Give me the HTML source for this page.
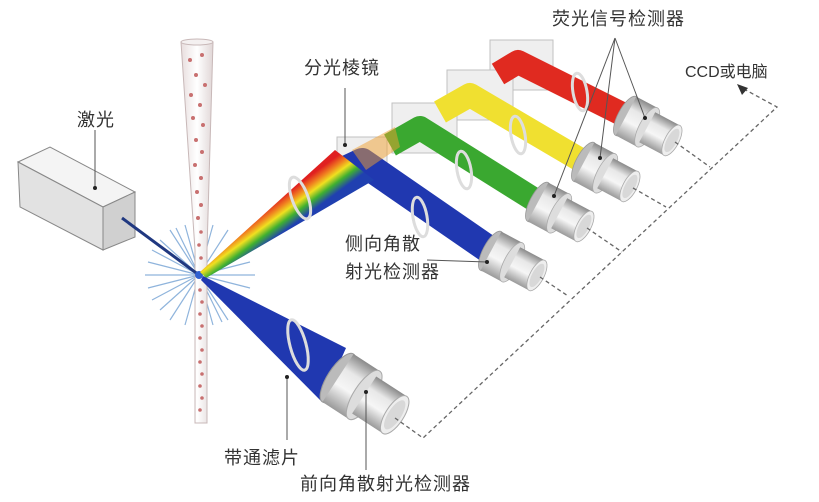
<!DOCTYPE html>
<html><head><meta charset="utf-8"><style>
html,body{margin:0;padding:0;background:#fff;}
svg{display:block;}
text{font-family:"Liberation Sans","Noto Sans CJK SC",sans-serif;font-size:18px;letter-spacing:1px;fill:#333;}
</style></head><body>
<svg width="819" height="502" viewBox="0 0 819 502" xmlns="http://www.w3.org/2000/svg">
<defs>
<linearGradient id="metal" x1="0" y1="0" x2="0" y2="1">
<stop offset="0" stop-color="#8a8a8a"/><stop offset="0.3" stop-color="#e8e8e8"/><stop offset="0.6" stop-color="#f6f6f6"/><stop offset="1" stop-color="#9a9a9a"/>
</linearGradient>
<linearGradient id="rainbow" gradientUnits="userSpaceOnUse" x1="192" y1="260" x2="214" y2="290">
<stop offset="0.05" stop-color="#e02020"/><stop offset="0.25" stop-color="#f08020"/><stop offset="0.42" stop-color="#f0e020"/><stop offset="0.62" stop-color="#40b030"/><stop offset="0.85" stop-color="#2040b0"/>
</linearGradient>
<linearGradient id="tube" x1="0" y1="0" x2="1" y2="0">
<stop offset="0" stop-color="#e8dede"/><stop offset="0.5" stop-color="#fff"/><stop offset="1" stop-color="#e0d6d6"/>
</linearGradient>
<g id="det">
<ellipse cx="0" cy="0" rx="8" ry="22" fill="#bbb" stroke="#999" stroke-width="0.8"/>
<rect x="0" y="-22" width="24" height="44" fill="url(#metal)"/>
<ellipse cx="24" cy="0" rx="8" ry="22" fill="#ddd" stroke="#aaa" stroke-width="0.8"/>
<rect x="24" y="-17" width="28" height="34" fill="url(#metal)"/>
<ellipse cx="52" cy="0" rx="7" ry="17" fill="#eee" stroke="#aaa" stroke-width="0.8"/>
<ellipse cx="52" cy="0" rx="5" ry="13" fill="#d8d8d8"/>
</g>
</defs>

<polygon points="18,162 50,147 135,192 103,207" fill="#f4f4f4" stroke="#888" stroke-width="1"/>
<polygon points="18,162 103,207 103,250 20,207" fill="#e2e2e2" stroke="#888" stroke-width="1"/>
<polygon points="103,207 135,192 135,237 103,250" fill="#d0d0d0" stroke="#888" stroke-width="1"/>
<line x1="95" y1="130" x2="95" y2="188" stroke="#555" stroke-width="1"/>
<circle cx="95" cy="188" r="2" fill="#222"/>
<text x="77" y="126">激光</text>

<g stroke="#8fb4dc" stroke-width="1.2">
<line x1="145" y1="275" x2="255" y2="275"/><line x1="152" y1="250" x2="246" y2="300"/>
<line x1="152" y1="300" x2="246" y2="250"/><line x1="170" y1="230" x2="228" y2="320"/>
<line x1="170" y1="320" x2="228" y2="230"/><line x1="160" y1="240" x2="238" y2="310"/>
<line x1="160" y1="310" x2="238" y2="240"/><line x1="185" y1="225" x2="213" y2="325"/>
<line x1="185" y1="325" x2="213" y2="225"/><line x1="148" y1="262" x2="250" y2="288"/>
<line x1="148" y1="288" x2="250" y2="262"/><line x1="176" y1="228" x2="222" y2="322"/>
</g>

<path d="M181,42 L213,42 L207,250 L207,423 L195,423 L195,250 Z" fill="url(#tube)" stroke="#c8b8b8" stroke-width="1"/>
<ellipse cx="197" cy="42" rx="16" ry="3" fill="#f4f0f0" stroke="#c8b8b8"/>
<g fill="#c87070">
<circle cx="190" cy="60" r="2"/><circle cx="202" cy="55" r="2"/><circle cx="196" cy="75" r="2"/><circle cx="205" cy="85" r="2"/>
<circle cx="191" cy="95" r="2"/><circle cx="200" cy="105" r="2"/><circle cx="193" cy="118" r="2"/><circle cx="203" cy="125" r="2"/>
<circle cx="196" cy="140" r="2"/><circle cx="202" cy="152" r="2"/><circle cx="195" cy="165" r="2"/><circle cx="201" cy="178" r="2"/>
<circle cx="197" cy="192" r="2"/><circle cx="201" cy="205" r="2"/><circle cx="198" cy="218" r="2"/><circle cx="201" cy="232" r="1.8"/>
<circle cx="199" cy="245" r="1.8"/><circle cx="201" cy="258" r="1.8"/>
<circle cx="200" cy="290" r="1.8"/><circle cx="202" cy="302" r="1.8"/><circle cx="200" cy="314" r="1.8"/><circle cx="202" cy="326" r="1.8"/>
<circle cx="200" cy="338" r="1.8"/><circle cx="202" cy="350" r="1.8"/><circle cx="200" cy="362" r="1.8"/><circle cx="202" cy="374" r="1.8"/>
<circle cx="200" cy="386" r="1.8"/><circle cx="202" cy="398" r="1.8"/><circle cx="200" cy="410" r="1.8"/>
</g>

<line x1="122" y1="218" x2="199" y2="275" stroke="#203880" stroke-width="3"/>
<circle cx="199" cy="275" r="4" fill="#3060d0"/>

<g fill="#eeeeee" stroke="#bbb" stroke-width="1" opacity="0.9">
<rect x="490" y="40" width="63" height="50"/>
<rect x="447" y="70" width="66" height="50"/>
<rect x="392" y="103" width="65" height="50"/>
<rect x="337" y="137" width="50" height="40"/>
</g>

<g fill="none" stroke-linejoin="round">
<polyline points="498,74 518,62 626,116" stroke="#e02a20" stroke-width="24"/>
<polyline points="440,112 470,95 584,162" stroke="#f0e030" stroke-width="24"/>
<polyline points="390,145 420,128 538,202" stroke="#3aa830" stroke-width="24"/>
<polyline points="345,170 362,162 491,251" stroke="#2038b0" stroke-width="28"/>
</g>
<polygon points="200,272 335,150 374,180 206,278" fill="url(#rainbow)"/>
<polygon points="352,150 395,127 400,147 366,170" fill="#f0a030" opacity="0.5"/>

<polygon points="203,276 346,348 322,402 201,280" fill="#2038b0"/>

<g fill="none" stroke="#ddd" stroke-width="3">
<ellipse cx="300" cy="198" rx="8" ry="22" transform="rotate(-20 300 198)"/>
<ellipse cx="420" cy="217" rx="7" ry="20" transform="rotate(-10 420 217)"/>
<ellipse cx="464" cy="170" rx="7" ry="19" transform="rotate(-10 464 170)"/>
<ellipse cx="518" cy="135" rx="7" ry="19" transform="rotate(-10 518 135)"/>
<ellipse cx="580" cy="92" rx="7" ry="19" transform="rotate(-10 580 92)"/>
<ellipse cx="298" cy="345" rx="8" ry="26" transform="rotate(-15 298 345)"/>
</g>

<use href="#det" transform="translate(626,116) rotate(28)"/>
<use href="#det" transform="translate(584,162) rotate(28)"/>
<use href="#det" transform="translate(538,202) rotate(28)"/>
<use href="#det" transform="translate(491,251) rotate(28)"/>
<use href="#det" transform="translate(338,378) rotate(33) scale(1.3)"/>

<g fill="none" stroke="#666" stroke-width="1.3" stroke-dasharray="4,3">
<polyline points="395,418 423,438 777,107 742,88"/>
<line x1="540" y1="277" x2="568" y2="296"/>
<line x1="587" y1="228" x2="622" y2="252"/>
<line x1="633" y1="188" x2="666" y2="207"/>
<line x1="675" y1="142" x2="710" y2="167"/>
</g>
<polygon points="737,84 748,88 742,95" fill="#333"/>

<g stroke="#555" stroke-width="1">
<line x1="345" y1="88" x2="345" y2="145"/>
<line x1="615" y1="38" x2="645" y2="118"/>
<line x1="615" y1="38" x2="600" y2="158"/>
<line x1="615" y1="38" x2="554" y2="196"/>
<line x1="427" y1="260" x2="487" y2="262"/>
<line x1="287" y1="377" x2="287" y2="440"/>
<line x1="366" y1="392" x2="366" y2="470"/>
</g>
<g fill="#222">
<circle cx="345" cy="145" r="2"/><circle cx="645" cy="118" r="2"/><circle cx="600" cy="158" r="2"/>
<circle cx="554" cy="196" r="2"/><circle cx="487" cy="262" r="2"/><circle cx="287" cy="377" r="2"/><circle cx="366" cy="392" r="2"/>
</g>

<text x="304" y="74">分光棱镜</text>
<text x="552" y="25">荧光信号检测器</text>
<text x="685" y="77" style="font-size:16px;letter-spacing:0">CCD或电脑</text>
<text x="345" y="250">侧向角散</text>
<text x="345" y="278">射光检测器</text>
<text x="224" y="464">带通滤片</text>
<text x="300" y="490">前向角散射光检测器</text>
</svg>
</body></html>
